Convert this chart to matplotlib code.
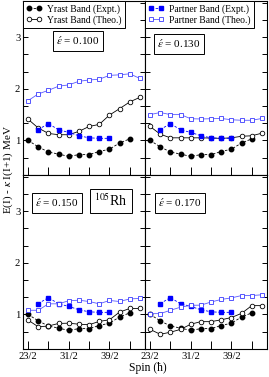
import numpy as np
import matplotlib
matplotlib.use('Agg')
import matplotlib.pyplot as plt
from matplotlib.ticker import FixedLocator, MultipleLocator

plt.rcParams['font.family'] = ['Liberation Serif', 'DejaVu Serif']
plt.rcParams['mathtext.fontset'] = 'stix'

# spins (in units of hbar)
spin_exp = [11.5, 12.5, 13.5, 14.5, 15.5, 16.5, 17.5, 18.5, 19.5, 20.5, 21.5]
spin_partner_exp = [12.5, 13.5, 14.5, 15.5, 16.5, 17.5, 18.5, 19.5]
spin_theo = [11.5, 12.5, 13.5, 14.5, 15.5, 16.5, 17.5, 18.5, 19.5, 20.5, 21.5, 22.5]

yrast_exp = [1.00, 0.875, 0.775, 0.735, 0.69, 0.725, 0.725, 0.785, 0.83, 0.95, 1.03]
partner_exp = [1.21, 1.325, 1.205, 1.155, 1.09, 1.05, 1.04, 1.04]

eps_labels = ['0.100', '0.130', '0.150', '0.170']

yrast_theo = [
    [1.41, 1.24, 1.135, 1.11, 1.11, 1.175, 1.27, 1.31, 1.49, 1.615, 1.745, 1.835],
    [1.27, 1.12, 1.05, 1.05, 1.05, 1.05, 1.045, 1.04, 1.05, 1.08, 1.09, 1.14],
    [0.89, 0.76, 0.775, 0.825, 0.83, 0.81, 0.80, 0.865, 0.895, 1.045, 1.115, 1.115],
    [0.71, 0.615, 0.655, 0.71, 0.81, 0.86, 0.86, 0.895, 0.94, 1.02, 1.17, 1.17],
]
partner_theo = [
    [1.77, 1.90, 1.97, 2.05, 2.075, 2.145, 2.17, 2.185, 2.26, 2.27, 2.29, 2.20],
    [1.50, 1.54, 1.50, 1.50, 1.42, 1.415, 1.42, 1.425, 1.40, 1.39, 1.39, 1.425],
    [1.08, 1.08, 1.205, 1.205, 1.265, 1.275, 1.25, 1.205, 1.27, 1.25, 1.30, 1.31],
    [1.015, 1.015, 1.08, 1.14, 1.175, 1.18, 1.24, 1.29, 1.32, 1.365, 1.365, 1.38],
]

x_ticks = [11.5, 13.5, 15.5, 17.5, 19.5, 21.5]
x_ticklabels = ['23/2', '', '31/2', '', '39/2', '']

W, H = 269, 377
fig = plt.figure(figsize=(W/100, H/100), dpi=100)

def px(x0, y0, x1, y1):
    return [x0/W, 1-y1/H, (x1-x0)/W, (y1-y0)/H]

rects = [px(23, 1, 145, 175), px(145, 1, 267, 175),
         px(23, 175, 145, 349), px(145, 175, 267, 349)]
axes = [fig.add_axes(r) for r in rects]

blue = '#0000ff'
lw = 0.6
for i, ax in enumerate(axes):
    l1, = ax.plot(spin_exp, yrast_exp, color='k', ls=(0, (3, 2)), lw=lw,
                  marker='o', ms=3.2, mfc='k', mec='k')
    l2, = ax.plot(spin_theo, yrast_theo[i], color='k', ls='-', lw=lw,
                  marker='o', ms=3.3, mfc='white', mec='k', mew=0.6)
    l3, = ax.plot(spin_partner_exp, partner_exp, color=blue, ls=(0, (3, 2)), lw=lw,
                  marker='s', ms=3.0, mfc=blue, mec=blue)
    l4, = ax.plot(spin_theo, partner_theo[i], color='#5a5aff', ls='-', lw=lw,
                  marker='s', ms=3.0, mfc='white', mec='#3a3aff', mew=0.6)
    ax.set_xlim(11.0, 23.0)
    ax.set_ylim(0.33, 3.7)
    ax.xaxis.set_major_locator(FixedLocator(x_ticks))
    ax.yaxis.set_major_locator(FixedLocator([1, 2, 3]))
    ax.yaxis.set_minor_locator(MultipleLocator(1/3))
    ax.tick_params(axis='x', direction='in', length=5.5, width=0.7, top=False, labelsize=7.6, pad=2)
    ax.tick_params(axis='y', which='both', direction='in', length=3.5, width=0.7,
                   left=True, right=True, labelsize=7.6, pad=2)
    if i >= 2:
        ax.set_xticklabels(x_ticklabels)
    else:
        ax.set_xticklabels([])
    if i % 2 == 1:
        ax.set_yticklabels([])
    for s in ax.spines.values():
        s.set_linewidth(0.8)
    if i == 0:
        leg = ax.legend([l1, l2], ['Yrast Band (Expt.)', 'Yrast Band (Theo.)'],
                        loc='upper left', bbox_to_anchor=(0, 1), borderaxespad=0,
                        numpoints=2, handlelength=1.6, handletextpad=0.6,
                        labelspacing=0.12, fontsize=6.9, fancybox=False,
                        edgecolor='k', framealpha=1, borderpad=0.35)
        leg.get_frame().set_linewidth(0.7)
    if i == 1:
        leg = ax.legend([l3, l4], ['Partner Band (Expt.)', 'Partner Band (Theo.)'],
                        loc='upper left', bbox_to_anchor=(0, 1), borderaxespad=0,
                        numpoints=2, handlelength=1.6, handletextpad=0.6,
                        labelspacing=0.12, fontsize=6.9, fancybox=False,
                        edgecolor='k', framealpha=1, borderpad=0.35)
        leg.get_frame().set_linewidth(0.7)

box = dict(boxstyle='square,pad=0.3', fc='white', ec='k', lw=0.7)
eps_pos = [(78, 41), (179, 44), (57, 203), (180, 203)]
for (x, y), lab in zip(eps_pos, eps_labels):
    fig.text(x/W, 1-y/H, r"$\acute{\varepsilon}$ = " + lab, ha='center', va='center',
             fontsize=8, bbox=box)
fig.text(111/W, 1-201/H, r"$^{105}$Rh", ha='center', va='center', fontsize=10, bbox=box)

fig.text(8/W, 1-169/H, r"E(I) - $\kappa$ I(I+1) MeV", rotation=90, ha='center', va='center', fontsize=8)
fig.text(148/W, 1-368/H, "Spin (\u0127)", ha='center', va='center', fontsize=8.4)

fig.savefig('out.png', dpi=100)
